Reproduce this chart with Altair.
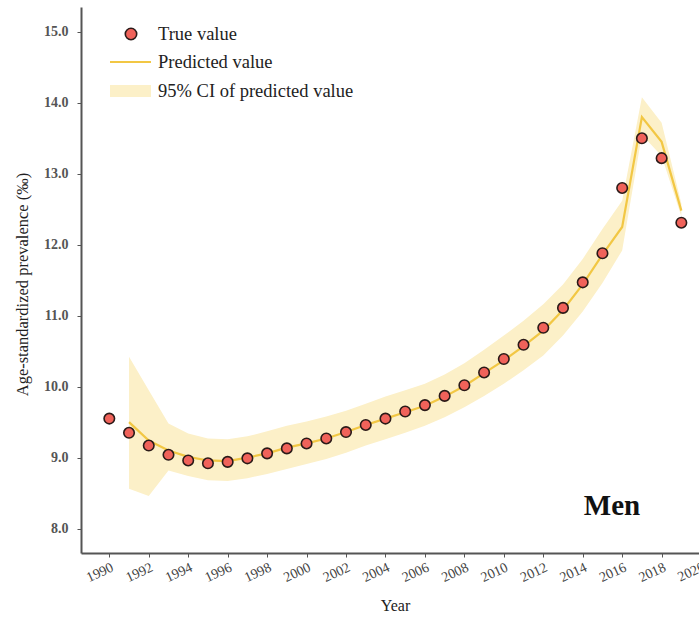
import altair as alt
import pandas as pd

# Observed age-standardized prevalence (per mille), 1990-2019
years_true = list(range(1990, 2020))
true_values = [9.55, 9.35, 9.17, 9.04, 8.96, 8.92, 8.94, 8.99, 9.06, 9.13,
               9.20, 9.27, 9.36, 9.46, 9.55, 9.65, 9.74, 9.87, 10.02, 10.20,
               10.39, 10.59, 10.83, 11.11, 11.47, 11.88, 12.80, 13.50, 13.22, 12.31]

# Model predictions with 95% confidence interval, 1991-2019
years_pred = list(range(1991, 2020))
pred_values = [9.50, 9.24, 9.10, 9.01, 8.96, 8.95, 9.00, 9.06, 9.14, 9.20,
               9.27, 9.36, 9.46, 9.55, 9.64, 9.73, 9.86, 10.01, 10.19, 10.37,
               10.57, 10.79, 11.08, 11.44, 11.86, 12.25, 13.80, 13.45, 12.48]
ci_lower = [8.56, 8.46, 8.82, 8.74, 8.68, 8.67, 8.71, 8.77, 8.84, 8.91,
            8.98, 9.07, 9.17, 9.26, 9.35, 9.45, 9.57, 9.71, 9.87, 10.04,
            10.23, 10.44, 10.72, 11.06, 11.46, 11.92, 13.55, 13.25, 12.40]
ci_upper = [10.42, 9.95, 9.48, 9.34, 9.27, 9.26, 9.30, 9.37, 9.45, 9.51,
            9.58, 9.66, 9.76, 9.86, 9.95, 10.04, 10.17, 10.33, 10.52, 10.72,
            10.93, 11.16, 11.44, 11.80, 12.22, 12.62, 14.08, 13.72, 12.58]

x_ticks = list(range(1990, 2020, 2))
x_edge_tick = [2020]          # sits just past the right edge of the plot
y_ticks = [8.0, 9.0, 10.0, 11.0, 12.0, 13.0, 14.0, 15.0]

FONT = "Liberation Serif"
POINT_FILL = "#F0625A"
POINT_STROKE = "#2A1A18"
LINE_COLOR = "#F2C744"
BAND_COLOR = "#FCF0C8"
TICK_LABEL_SIZE = 14
LABEL_ANGLE = -25

obs = pd.DataFrame({"year": years_true, "value": true_values})
pred = pd.DataFrame({"year": years_pred, "pred": pred_values,
                     "lo": ci_lower, "hi": ci_upper})

W, H = 618, 546

x_scale = alt.Scale(domain=[1988.565, 2019.895], nice=False, zero=False)
y_scale = alt.Scale(domain=[7.656, 15.35], nice=False, zero=False)

x_axis = alt.Axis(
    values=x_ticks, format="d", title="Year", grid=False,
    labelAngle=LABEL_ANGLE, labelFont=FONT, labelFontSize=TICK_LABEL_SIZE,
    labelColor="#444444", labelPadding=3, tickSize=4, tickColor="#555555",
    domainColor="#555555", domainWidth=2, titleFont=FONT, titleFontSize=16,
    titleFontWeight="normal", titleColor="#222222", titleX=314, titleY=44,
    titleBaseline="top",
)
y_axis = alt.Axis(
    values=y_ticks, format=".1f", title="Age-standardized prevalence (‰)",
    grid=False, labelFont=FONT, labelFontSize=14, labelFontWeight="bold",
    labelColor="#555555", labelPadding=9, tickSize=4, tickColor="#555555",
    domainColor="#555555", domainWidth=2, titleFont=FONT, titleFontSize=16.5,
    titleFontWeight="normal", titleColor="#222222", titleAngle=270,
    titleX=-59, titleY=277, titleAlign="center", titleBaseline="middle",
)

band = alt.Chart(pred).mark_area(color=BAND_COLOR, opacity=1).encode(
    x=alt.X("year:Q", scale=x_scale, axis=x_axis),
    y=alt.Y("lo:Q", scale=y_scale, axis=y_axis),
    y2="hi:Q",
)

line = alt.Chart(pred).mark_line(color=LINE_COLOR, strokeWidth=2.2).encode(
    x=alt.X("year:Q", scale=x_scale),
    y=alt.Y("pred:Q", scale=y_scale),
)

points = alt.Chart(obs).mark_point(
    shape="circle", filled=True, fill=POINT_FILL, stroke=POINT_STROKE,
    strokeWidth=1.6, size=110, opacity=1,
).encode(
    x=alt.X("year:Q", scale=x_scale),
    y=alt.Y("value:Q", scale=y_scale),
)

# Last year label, cut by the right edge like the axis continues beyond it
edge_label = alt.Chart(pd.DataFrame({"year": x_edge_tick})).mark_text(
    font=FONT, fontSize=TICK_LABEL_SIZE, color="#444444", align="right",
    baseline="top", angle=360 + LABEL_ANGLE,
).encode(
    x=alt.X("year:Q", scale=x_scale),
    y=alt.value(H + 7),
    text=alt.Text("year:Q", format="d"),
)

# Panel label
label = alt.Chart(pd.DataFrame({"t": ["Men"]})).mark_text(
    font=FONT, fontSize=29, fontWeight="bold", color="#111111",
    align="center", baseline="middle",
).encode(x=alt.value(531), y=alt.value(499), text="t:N")

# Hand-built legend
leg_font = dict(font=FONT, fontSize=18.5, color="#222222", align="left",
                baseline="middle")
leg_text = alt.Chart(pd.DataFrame({
    "t": ["True value", "Predicted value", "95% CI of predicted value"],
    "y": [27, 55, 84],
})).mark_text(**leg_font).encode(
    x=alt.value(77), y=alt.Y("y:Q", scale=None), text="t:N")

leg_point = alt.Chart(pd.DataFrame({"k": [0]})).mark_point(
    shape="circle", filled=True, fill=POINT_FILL, stroke=POINT_STROKE,
    strokeWidth=1.6, size=130, opacity=1,
).encode(x=alt.value(50), y=alt.value(27))

leg_line = alt.Chart(pd.DataFrame({"k": [0]})).mark_rule(
    color=LINE_COLOR, strokeWidth=2.2
).encode(x=alt.value(29), x2=alt.value(70), y=alt.value(55))

leg_band = alt.Chart(pd.DataFrame({"k": [0]})).mark_rect(
    color=BAND_COLOR, opacity=1
).encode(x=alt.value(29), x2=alt.value(70), y=alt.value(78), y2=alt.value(90))

chart = alt.layer(
    band, line, points, edge_label, label, leg_band, leg_line, leg_point,
    leg_text,
).properties(
    width=W, height=H,
    autosize=alt.AutoSizeParams(type="none"),
    padding={"left": 81, "top": 7, "right": 0, "bottom": 67},
    background="white",
).configure_view(stroke=None)

chart.save("out.html", embed_options={"renderer": "svg", "actions": False})
